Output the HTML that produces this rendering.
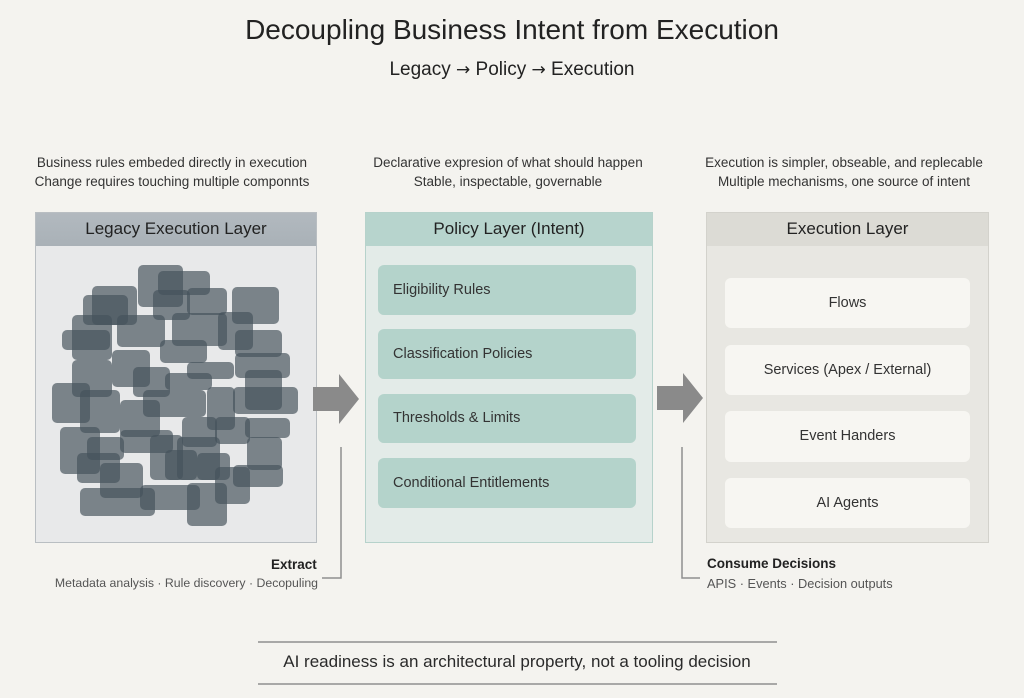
<!DOCTYPE html>
<html><head><meta charset="utf-8"><style>
body{margin:0;width:1024px;height:698px;background:#f4f3ef;font-family:"Liberation Sans","DejaVu Sans",sans-serif;color:#2a2a2a;position:relative;overflow:hidden}
.a{position:absolute}
.t{text-align:center;white-space:nowrap}
.cap{font-size:13.5px;line-height:19px;color:#333}
.panel{position:absolute;top:212px;height:331px;box-sizing:border-box}
.hd{height:33px;line-height:31px;text-align:center;font-size:17px;color:#222}
.item{position:absolute;border-radius:6px;font-size:14.5px;color:#333}
</style></head><body>
<div class="a t" style="left:0;width:1024px;top:14px;font-size:28px;color:#222">Decoupling Business Intent from Execution</div>
<div class="a t" style="left:0;width:1024px;top:59px;font-size:19px;color:#222">Legacy <span style="font-family:'DejaVu Sans';font-size:17px">→</span> Policy <span style="font-family:'DejaVu Sans';font-size:17px">→</span> Execution</div>

<div class="a t cap" style="left:22px;width:300px;top:153px">Business rules embeded directly in execution<br>Change requires touching multiple componnts</div>
<div class="a t cap" style="left:358px;width:300px;top:153px">Declarative expresion of what should happen<br>Stable, inspectable, governable</div>
<div class="a t cap" style="left:694px;width:300px;top:153px">Execution is simpler, obseable, and replecable<br>Multiple mechanisms, one source of intent</div>

<div class="panel" style="left:35px;width:282px;background:#e8e9ea;border:1.5px solid #b9bec2">
<div class="hd" style="background:linear-gradient(#b2b9bf,#a9b1b7)">Legacy Execution Layer</div>
</div>
<svg class="a" style="left:0;top:0" width="1024" height="698">
<g fill="#46525c" fill-opacity="0.68">
<rect x="138" y="265" width="45" height="42" rx="5"/><rect x="158" y="271" width="52" height="24" rx="5"/>
<rect x="92" y="286" width="45" height="39" rx="5"/><rect x="83" y="295" width="45" height="30" rx="5"/>
<rect x="232" y="287" width="47" height="37" rx="5"/><rect x="187" y="288" width="40" height="27" rx="5"/>
<rect x="153" y="290" width="37" height="30" rx="5"/><rect x="72" y="315" width="40" height="45" rx="5"/>
<rect x="62" y="330" width="48" height="20" rx="5"/><rect x="117" y="315" width="48" height="32" rx="5"/>
<rect x="172" y="313" width="55" height="33" rx="5"/><rect x="218" y="312" width="35" height="38" rx="5"/>
<rect x="235" y="330" width="47" height="27" rx="5"/><rect x="160" y="340" width="47" height="23" rx="5"/>
<rect x="112" y="350" width="38" height="37" rx="5"/><rect x="72" y="360" width="40" height="37" rx="5"/>
<rect x="235" y="353" width="55" height="25" rx="5"/><rect x="187" y="362" width="47" height="17" rx="5"/>
<rect x="165" y="373" width="47" height="17" rx="5"/><rect x="133" y="367" width="37" height="30" rx="5"/>
<rect x="52" y="383" width="38" height="40" rx="5"/><rect x="80" y="390" width="40" height="43" rx="5"/>
<rect x="143" y="390" width="63" height="27" rx="5"/><rect x="207" y="387" width="28" height="43" rx="5"/>
<rect x="245" y="370" width="37" height="40" rx="5"/><rect x="233" y="387" width="65" height="27" rx="5"/>
<rect x="120" y="400" width="40" height="37" rx="5"/><rect x="182" y="417" width="35" height="30" rx="5"/>
<rect x="215" y="417" width="35" height="27" rx="5"/><rect x="245" y="418" width="45" height="20" rx="5"/>
<rect x="60" y="427" width="40" height="47" rx="5"/><rect x="120" y="430" width="53" height="23" rx="5"/>
<rect x="150" y="435" width="33" height="45" rx="5"/><rect x="177" y="437" width="43" height="43" rx="5"/>
<rect x="247" y="437" width="35" height="33" rx="5"/><rect x="77" y="453" width="43" height="30" rx="5"/>
<rect x="100" y="463" width="43" height="35" rx="5"/><rect x="165" y="450" width="32" height="30" rx="5"/>
<rect x="197" y="453" width="33" height="27" rx="5"/><rect x="233" y="465" width="50" height="22" rx="5"/>
<rect x="80" y="488" width="75" height="28" rx="5"/><rect x="140" y="485" width="60" height="25" rx="5"/>
<rect x="187" y="483" width="40" height="43" rx="5"/><rect x="215" y="467" width="35" height="37" rx="5"/>
<rect x="87" y="437" width="37" height="23" rx="5"/>
</g>
<g fill="#8a8a8a">
<polygon points="313,387 339,387 339,374 359,399 339,424 339,411 313,411"/>
<polygon points="657,386 683,386 683,373 703,398 683,423 683,410 657,410"/>
</g>
<g stroke="#8f8f8f" stroke-width="1.5" fill="none">
<polyline points="341,447 341,578 322,578"/>
<polyline points="682,447 682,578 700,578"/>
<line x1="258" y1="642" x2="777" y2="642"/>
<line x1="258" y1="684" x2="777" y2="684"/>
</g>
</svg>

<div class="panel" style="left:365px;width:288px;background:#e3ebe8;border:1.5px solid #b6d2cb">
<div class="hd" style="background:#b7d4cd">Policy Layer (Intent)</div>
</div>
<div class="item" style="left:378px;top:265px;width:258px;height:50px;line-height:50px;background:#b4d3cb;padding-left:15px;box-sizing:border-box">Eligibility Rules</div>
<div class="item" style="left:378px;top:329px;width:258px;height:50px;line-height:50px;background:#b4d3cb;padding-left:15px;box-sizing:border-box">Classification Policies</div>
<div class="item" style="left:378px;top:394px;width:258px;height:49px;line-height:49px;background:#b4d3cb;padding-left:15px;box-sizing:border-box">Thresholds &amp; Limits</div>
<div class="item" style="left:378px;top:458px;width:258px;height:50px;line-height:50px;background:#b4d3cb;padding-left:15px;box-sizing:border-box">Conditional Entitlements</div>

<div class="panel" style="left:706px;width:283px;background:#e8e7e2;border:1.5px solid #d3d2cc">
<div class="hd" style="background:#dcdbd5">Execution Layer</div>
</div>
<div class="item t" style="left:725px;top:278px;width:245px;height:50px;line-height:50px;background:#f7f6f2">Flows</div>
<div class="item t" style="left:725px;top:345px;width:245px;height:50px;line-height:50px;background:#f7f6f2">Services (Apex / External)</div>
<div class="item t" style="left:725px;top:411px;width:245px;height:51px;line-height:51px;background:#f7f6f2">Event Handers</div>
<div class="item t" style="left:725px;top:478px;width:245px;height:50px;line-height:50px;background:#f7f6f2">AI Agents</div>

<div class="a" style="left:271px;top:557px;font-size:13.5px;font-weight:bold;color:#222">Extract</div>
<div class="a" style="left:0;width:318px;text-align:right;top:576px;font-size:12.3px;color:#555">Metadata analysis · Rule discovery · Decopuling</div>
<div class="a" style="left:707px;top:556px;font-size:13.5px;font-weight:bold;color:#222">Consume Decisions</div>
<div class="a" style="left:707px;top:576px;font-size:12.8px;color:#555">APIS · Events · Decision outputs</div>

<div class="a t" style="left:0;width:1034px;top:652px;font-size:17px;color:#2a2a2a">AI readiness is an architectural property, not a tooling decision</div>
</body></html>
